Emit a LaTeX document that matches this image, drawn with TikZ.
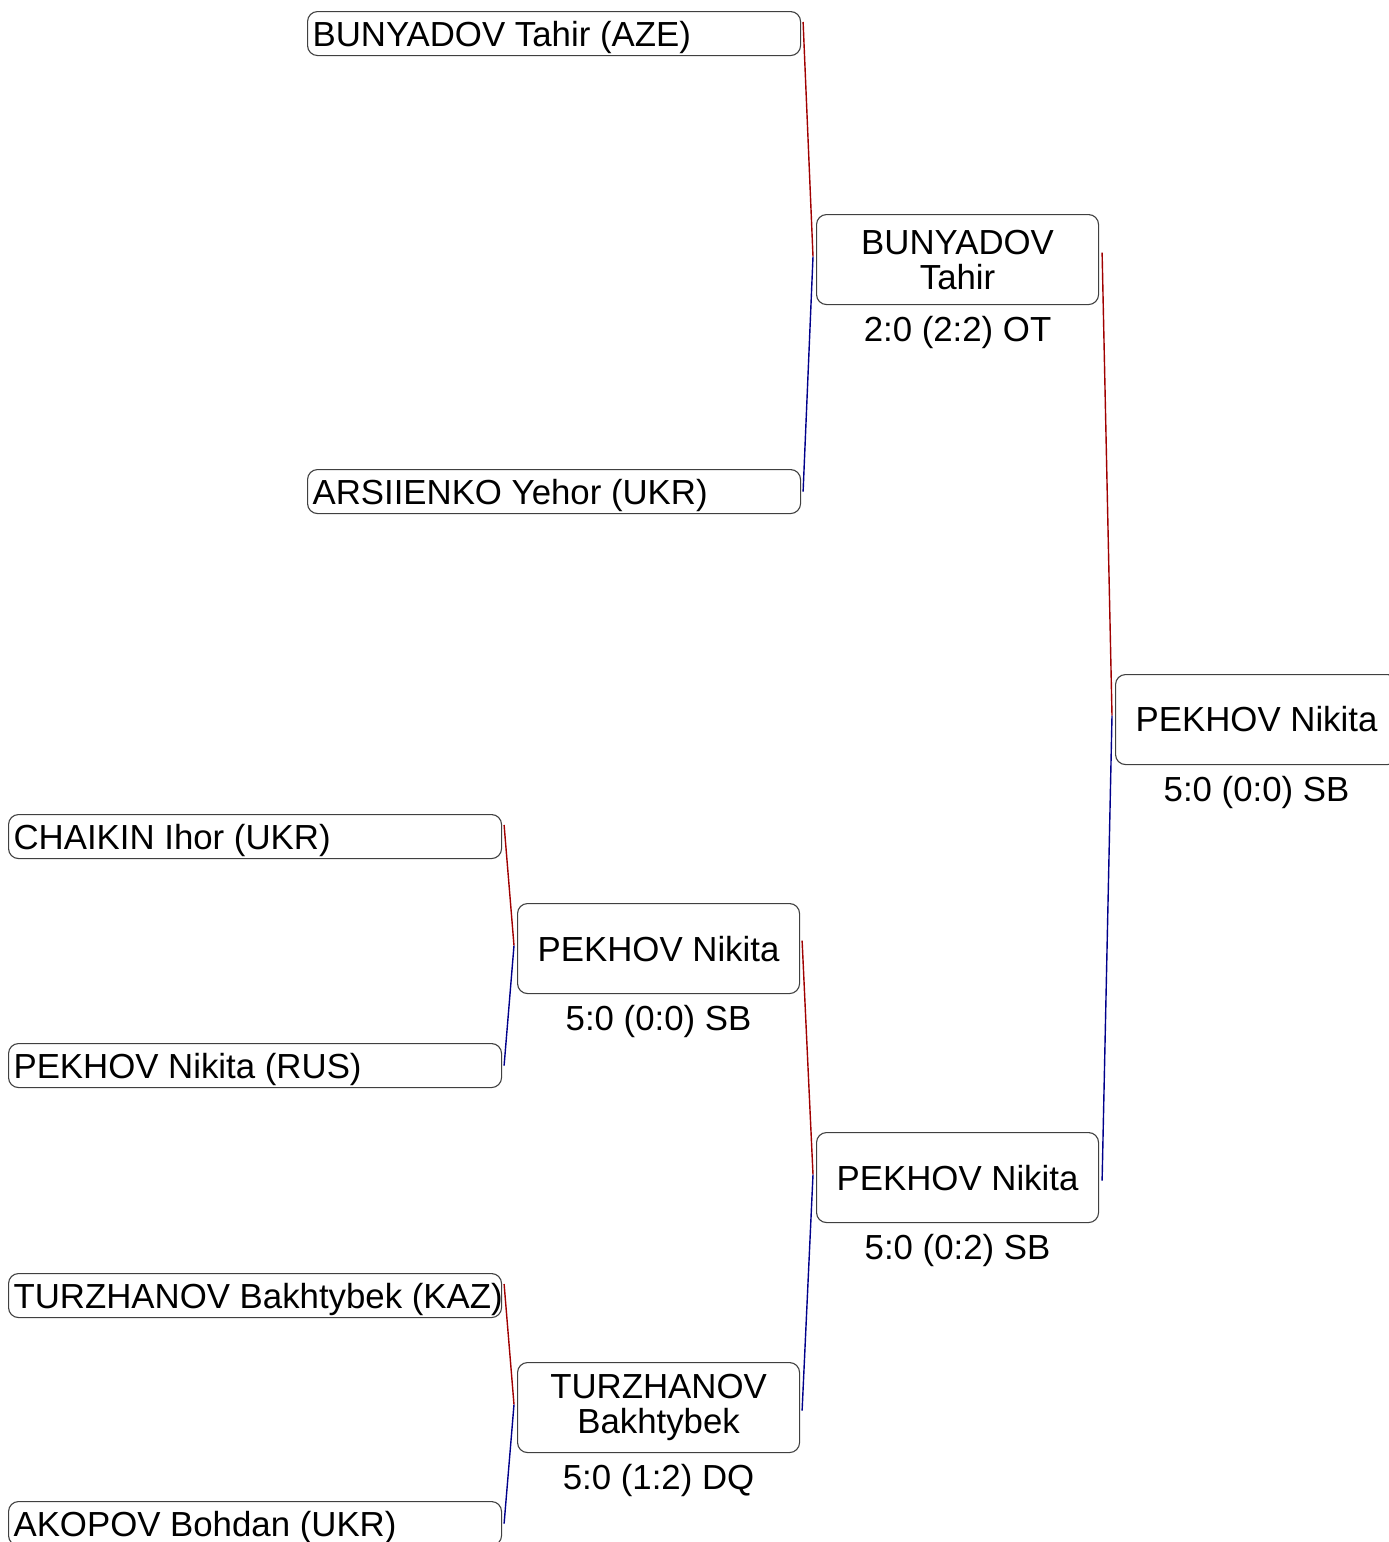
\documentclass[tikz,border=0pt]{standalone}
\usepackage{fontspec}
\setmainfont{Liberation Sans}
\usetikzlibrary{positioning,calc}
\definecolor{cred}{HTML}{A00000}
\definecolor{cblu}{HTML}{00008B}

\begin{document}
\begin{tikzpicture}[
  x=1pt,y=1pt,
  font=\fontsize{34.8}{35}\selectfont,
  entry/.style={draw=black!75,line width=1.1pt,rounded corners=10pt,anchor=north west,minimum width=493pt,minimum height=44pt,inner xsep=5pt,inner ysep=0pt,text height=32pt,text depth=7pt,
    execute at begin node={\hbox to 483pt\bgroup},execute at end node={\hss\egroup}},
  win/.style={draw=black!75,line width=1.1pt,rounded corners=10pt,anchor=north west,minimum width=282pt,minimum height=90pt,inner sep=2pt,align=center},
  score/.style={inner sep=0pt},
  redline/.style={cred,line width=1.4pt},
  blueline/.style={cblu,line width=1.4pt}
]
  \useasboundingbox (0,0) rectangle (1389,-1542);

  % First round entries
  \node[entry] (aze)     at (307,-11)   {BUNYADOV Tahir (AZE)};
  \node[entry] (ars)     at (307,-469)  {ARSIIENKO Yehor (UKR)};
  \node[entry] (chaikin) at (8,-814)    {CHAIKIN Ihor (UKR)};
  \node[entry] (rus)     at (8,-1043)   {PEKHOV Nikita (RUS)};
  \node[entry] (kaz)     at (8,-1273)   {TURZHANOV Bakhtybek (KAZ)};
  \node[entry] (akopov)  at (8,-1501)   {AKOPOV Bohdan (UKR)};

  % Winners
  \node[win] (w1) at (816,-214)  {BUNYADOV\\Tahir};
  \node[win] (w2) at (517,-903)  {PEKHOV Nikita};
  \node[win] (w3) at (517,-1362) {TURZHANOV\\Bakhtybek};
  \node[win] (w4) at (816,-1132) {PEKHOV Nikita};
  \node[win] (fin) at (1115,-674) {PEKHOV Nikita};

  % Scores
  \node[score,below=11pt of w1]  (s1) {2:0 (2:2) OT};
  \node[score,below=11pt of w2]  (s2) {5:0 (0:0) SB};
  \node[score,below=11pt of w3]  (s3) {5:0 (1:2) DQ};
  \node[score,below=11pt of w4]  (s4) {5:0 (0:2) SB};
  \node[score,below=11pt of fin] (s5) {5:0 (0:0) SB};

  % Meeting points
  \coordinate (m1) at ($(w1.west)+(-3,3)$);
  \coordinate (m2) at ($(w2.west)+(-3,3)$);
  \coordinate (m3) at ($(w3.west)+(-3,3)$);
  \coordinate (m4) at ($(w4.west)+(-3,3)$);
  \coordinate (m5) at ($(fin.west)+(-3,4)$);

  % Connectors
  \draw[redline]  ($(aze.north east)+(2,-11)$) -- (m1);
  \draw[blueline] (m1) -- ($(ars.east)+(2,0)$);
  \draw[redline]  ($(chaikin.north east)+(2,-11)$) -- (m2);
  \draw[blueline] (m2) -- ($(rus.east)+(2,0)$);
  \draw[redline]  ($(kaz.north east)+(2,-11)$) -- (m3);
  \draw[blueline] (m3) -- ($(akopov.east)+(2,0)$);
  \draw[redline]  ($(w2.east)+(2,8)$) -- (m4);
  \draw[blueline] (m4) -- ($(w3.east)+(2,-3)$);
  \draw[redline]  ($(w1.east)+(3,7)$) -- (m5);
  \draw[blueline] (m5) -- ($(w4.east)+(3,-3)$);
\end{tikzpicture}
\end{document}
